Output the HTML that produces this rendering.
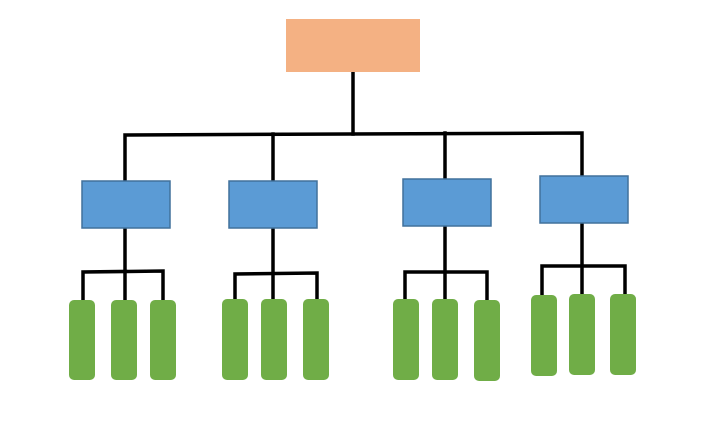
<!DOCTYPE html>
<html><head><meta charset="utf-8"><style>html,body{margin:0;padding:0;background:#fff}svg{display:block}</style></head>
<body>
<svg width="712" height="438" viewBox="0 0 712 438" xmlns="http://www.w3.org/2000/svg">
<g stroke="#000" stroke-width="3.5" fill="none" stroke-linecap="square">
<line x1="353" y1="72" x2="353" y2="134"/>
<polyline points="125,181 125,135 582,133 582,176"/>
<line x1="273" y1="134" x2="273" y2="181"/>
<line x1="445" y1="133" x2="445" y2="179"/>
<line x1="125" y1="228" x2="125" y2="300"/>
<polyline points="83,300 83,272 163,271 163,300"/>
<line x1="273" y1="228" x2="273" y2="299"/>
<polyline points="235,299 235,274 317,273 317,299"/>
<line x1="445" y1="226" x2="445" y2="299"/>
<polyline points="405,299 405,272 487,272 487,300"/>
<line x1="582" y1="223" x2="582" y2="294"/>
<polyline points="542,295 542,266 625,266 625,294"/>
</g>
<rect x="286" y="19" width="134" height="53" fill="#f4b183"/>
<g fill="#5b9bd5" stroke="#41719c" stroke-width="1.5">
<rect x="82" y="181" width="88" height="47"/>
<rect x="229" y="181" width="88" height="47"/>
<rect x="403" y="179" width="88" height="47"/>
<rect x="540" y="176" width="88" height="47"/>
</g>
<g fill="#70ad47">
<rect x="69" y="300" width="26" height="80" rx="5"/>
<rect x="111" y="300" width="26" height="80" rx="5"/>
<rect x="150" y="300" width="26" height="80" rx="5"/>
<rect x="222" y="299" width="26" height="81" rx="5"/>
<rect x="261" y="299" width="26" height="81" rx="5"/>
<rect x="303" y="299" width="26" height="81" rx="5"/>
<rect x="393" y="299" width="26" height="81" rx="5"/>
<rect x="432" y="299" width="26" height="81" rx="5"/>
<rect x="474" y="300" width="26" height="81" rx="5"/>
<rect x="531" y="295" width="26" height="81" rx="5"/>
<rect x="569" y="294" width="26" height="81" rx="5"/>
<rect x="610" y="294" width="26" height="81" rx="5"/>
</g>
</svg>
</body></html>
